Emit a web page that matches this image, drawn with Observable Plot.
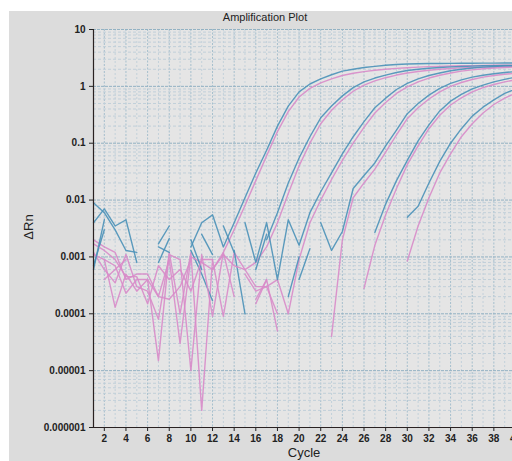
<!DOCTYPE html>
<html><head><meta charset="utf-8">
<script src="https://cdn.jsdelivr.net/npm/d3@7"></script>
<script src="https://cdn.jsdelivr.net/npm/@observablehq/plot@0.6"></script>
<style>
html,body{margin:0;padding:0;background:#fff;overflow:hidden;}
#wrap{position:relative;width:512px;height:461px;overflow:hidden;font-family:"Liberation Sans",Arial,sans-serif;}
#panel{position:absolute;left:9px;top:11px;right:0;bottom:0;background:#dcdcdc;}
#chart{position:absolute;left:0;top:0;width:540px;}
.lbl{position:absolute;color:#222;white-space:nowrap;transform:translate(-50%,-50%);line-height:1;}
#title{left:265px;top:17px;font-size:11px;}
#xlabel{left:304px;top:452px;font-size:13px;}
#ylabel{left:28px;top:227px;font-size:13px;transform:translate(-50%,-50%) rotate(-90deg);}
</style></head>
<body><div id="wrap"><div id="panel"></div><div id="chart"></div>
<div class="lbl" id="title">Amplification Plot</div>
<div class="lbl" id="xlabel">Cycle</div>
<div class="lbl" id="ylabel">ΔRn</div></div>
<script>
// Cycle numbers 1..40; each well array holds ΔRn for cycles 1..40 (null = not plotted)
const cycleNumbers = [1,2,3,4,5,6,7,8,9,10,11,12,13,14,15,16,17,18,19,20,21,22,23,24,25,26,27,28,29,30,31,32,33,34,35,36,37,38,39,40];
const xTicks = [2,4,6,8,10,12,14,16,18,20,22,24,26,28,30,32,34,36,38,40];
const yTicks = [0.000001,0.00001,0.0001,0.001,0.01,0.1,1,10];
const yTickLabels = ["0.000001","0.00001","0.0001","0.001","0.01","0.1","1","10"];
const dyes = ["FAM", "VIC"];
const dyeColors = ["#4a91b8", "#d88bc9"];

const A_blue = [0.004,0.007,0.0035,0.0045,0.0008,null,0.0017,0.0035,null,0.0015,0.004,0.0055,0.0015,0.004,0.011,0.03,0.075,0.2,0.45,0.8,1.1,1.35,1.6,1.85,2.0,2.15,2.25,2.35,2.42,2.48,2.5,2.52,2.53,2.54,2.55,2.55,2.56,2.56,2.57,2.57];
const A_pink = [0.002,0.0015,0.0012,0.0004,0.0005,0.0005,0.0002,0.00018,0.0003,0.0009,null,0.0006,0.0012,0.003,0.008,0.022,0.06,0.16,0.36,0.65,0.92,1.15,1.35,1.55,1.7,1.82,1.92,2.0,2.07,2.13,2.18,2.22,2.25,2.28,2.3,2.32,2.34,2.35,2.36,2.37];
const B_blue = [0.009,0.006,0.003,0.0013,0.0012,null,null,null,null,0.0013,0.0005,0.00017,null,0.0013,0.0001,null,0.002,0.006,0.02,0.055,0.13,0.28,0.45,0.68,0.95,1.2,1.4,1.58,1.75,1.9,2.0,2.08,2.14,2.2,2.24,2.27,2.3,2.32,2.33,2.34];
const B_pink = [0.0011,0.0009,0.00013,0.0005,0.00025,0.0004,0.000015,0.0012,0.0001,0.0012,0.000002,0.0009,0.00009,0.0012,0.0006,0.0008,0.0015,0.004,0.013,0.04,0.1,0.22,0.38,0.58,0.82,1.05,1.25,1.42,1.58,1.72,1.83,1.92,2.0,2.06,2.11,2.15,2.18,2.2,2.22,2.24];
const C_blue = [0.0007,0.003,null,null,null,null,null,null,null,null,null,null,null,null,0.004,0.0008,0.004,0.0004,0.0045,0.0016,0.006,0.014,0.03,0.065,0.13,0.24,0.42,0.62,0.88,1.13,1.35,1.55,1.72,1.88,2.0,2.1,2.18,2.24,2.29,2.32];
const C_pink = [null,0.0009,0.0007,0.00023,0.0004,0.0004,0.0002,0.0009,0.00003,0.001,0.0008,0.0006,0.0011,0.0007,0.0006,0.0003,0.0003,0.0004,0.0001,0.0009,0.004,0.01,0.023,0.05,0.1,0.19,0.34,0.52,0.75,0.98,1.2,1.4,1.57,1.72,1.85,1.95,2.04,2.1,2.15,2.2];
const D_blue = [null,null,null,null,null,null,0.0015,0.0012,null,0.002,0.0006,null,null,null,null,0.0006,0.0025,null,0.0002,0.001,null,0.004,0.0013,0.0028,0.016,0.027,0.045,0.09,0.17,0.33,0.5,0.7,0.92,1.13,1.3,1.45,1.57,1.67,1.75,1.82];
const D_pink = [0.0012,0.0006,0.00035,0.0011,0.0003,0.00025,0.00008,0.0011,0.0009,0.00001,0.0011,0.00009,0.0012,0.0002,null,0.00015,0.0004,0.00005,null,null,null,null,0.00004,0.002,0.011,0.02,0.035,0.07,0.14,0.27,0.42,0.6,0.8,1.0,1.17,1.32,1.45,1.55,1.63,1.7];
const E_blue = [null,null,null,null,null,null,0.0008,0.0021,null,null,0.0025,0.0011,null,null,null,null,null,null,null,0.0004,0.0014,null,null,null,null,null,0.0027,0.0085,0.022,0.05,0.11,0.21,0.37,0.55,0.72,0.9,1.05,1.2,1.33,1.45];
const E_pink = [0.0017,0.0013,0.0009,0.00045,0.00045,0.00015,0.0007,0.0004,0.0006,0.00025,0.0009,0.0009,null,null,null,0.00018,0.0004,null,null,null,null,null,null,null,null,0.00028,0.0016,0.0055,0.016,0.042,0.09,0.18,0.31,0.47,0.63,0.8,0.95,1.08,1.2,1.3];
const F_blue = [0.0006,0.0045,null,null,null,null,null,null,null,null,null,null,0.0035,0.0012,null,null,null,null,null,null,null,null,null,null,null,null,null,null,null,0.005,0.0078,0.02,0.048,0.1,0.18,0.3,0.43,0.58,0.75,0.9];
const F_pink = [null,0.0004,0.0006,0.0009,null,null,null,null,null,null,null,null,null,null,0.0005,0.00025,0.0003,0.0001,null,null,null,null,null,null,null,null,null,null,null,0.00085,0.0035,0.011,0.03,0.065,0.13,0.22,0.34,0.48,0.62,0.76];

const wells = [
  ["A_pink","VIC",A_pink],["A_blue","FAM",A_blue],
  ["B_pink","VIC",B_pink],["B_blue","FAM",B_blue],
  ["C_pink","VIC",C_pink],["C_blue","FAM",C_blue],
  ["D_pink","VIC",D_pink],["D_blue","FAM",D_blue],
  ["E_pink","VIC",E_pink],["E_blue","FAM",E_blue],
  ["F_pink","VIC",F_pink],["F_blue","FAM",F_blue]
];
const rows = [];
for (const [well, dye, vals] of wells) {
  vals.forEach((v, i) => rows.push({well, dye, cycle: cycleNumbers[i], value: v}));
}

// grid helpers derived from the tick arrays
const minorY = [];
for (const d of yTicks.slice(0, -1)) for (let m = 2; m <= 9; m++) minorY.push(d * m);
const minorX = cycleNumbers.filter(c => c % 2 === 1 && c > 1);

const chart = Plot.plot({
  width: 530,
  height: 461,
  marginLeft: 93,
  marginRight: 15,
  marginTop: 29,
  marginBottom: 34,
  style: {background: "transparent", maxWidth: "none", fontFamily: "Liberation Sans, Arial, sans-serif", fontSize: "10px", fontWeight: "bold", color: "#222", overflow: "visible"},
  x: {domain: [1, 40], ticks: xTicks, tickSize: 4, tickPadding: 3, label: null},
  y: {type: "log", domain: [0.000001, 10], ticks: yTicks, tickFormat: d => yTickLabels[yTicks.indexOf(d)] ?? "", tickSize: 4, tickPadding: 4, label: null},
  color: {domain: dyes, range: dyeColors},
  marks: [
    Plot.frame({fill: "#e5e5e5", stroke: null}),
    Plot.ruleX(minorX, {stroke: "#c3d1da", strokeDasharray: "2,2", strokeWidth: 1}),
    Plot.ruleX(xTicks, {stroke: "#a6bfcd", strokeDasharray: "2,1.5", strokeWidth: 1}),
    Plot.ruleY(minorY, {stroke: "#c0cfd9", strokeDasharray: "3,2", strokeWidth: 1}),
    Plot.ruleY(yTicks, {stroke: "#93b2c3", strokeDasharray: "3,1", strokeWidth: 1}),
    Plot.line(rows, {x: "cycle", y: "value", z: "well", stroke: "dye", strokeWidth: 1.4, strokeOpacity: 0.9}),
    Plot.ruleX([1], {stroke: "#2a2222", strokeWidth: 1.2}),
    Plot.ruleY([0.000001], {stroke: "#2a2222", strokeWidth: 1.2})
  ]
});
document.getElementById("chart").appendChild(chart);
</script>
</body></html>
